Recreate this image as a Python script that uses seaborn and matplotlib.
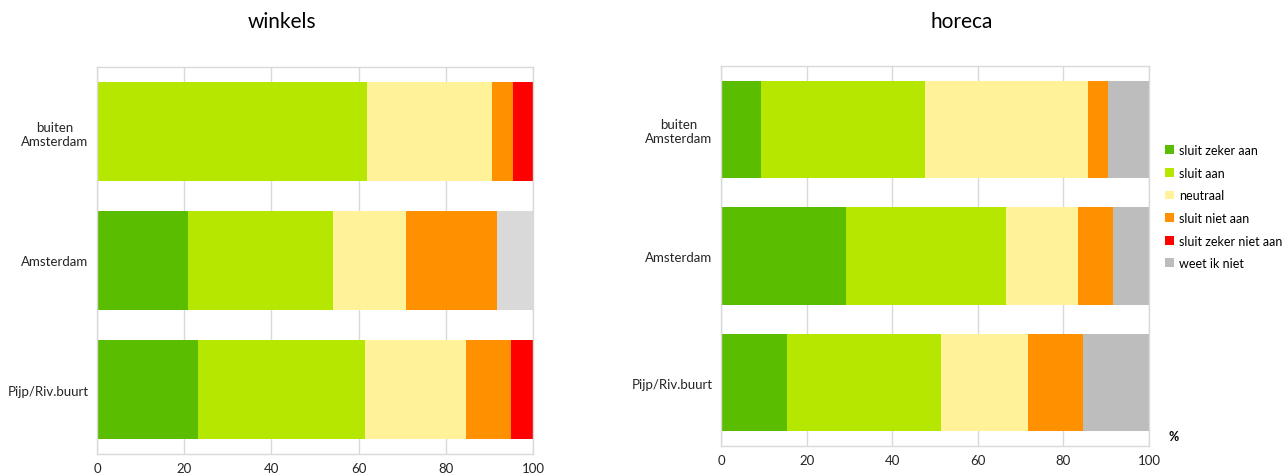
import matplotlib
matplotlib.use("Agg")
import matplotlib.pyplot as plt
import seaborn as sns
import pandas as pd
import numpy as np
from matplotlib.patches import Patch

sns.set_theme(style="white")
plt.rcParams["font.family"] = ["Lato", "DejaVu Sans"]

# areas (top to bottom)
areas = ["buiten\nAmsterdam", "Amsterdam", "Pijp/Riv.buurt"]
answers = ["sluit zeker aan", "sluit aan", "neutraal", "sluit niet aan",
           "sluit zeker niet aan", "weet ik niet"]

# shares in % per answer, per area
winkels_zeker_aan = [0.0, 20.9, 23.2]
winkels_aan = [61.9, 33.3, 38.3]
winkels_neutraal = [28.7, 16.7, 23.2]
winkels_niet_aan = [4.7, 20.8, 10.3]
winkels_zeker_niet = [4.8, 0.0, 5.0]
winkels_weet_niet = [0.0, 8.3, 0.0]

horeca_zeker_aan = [9.3, 29.1, 15.4]
horeca_aan = [38.3, 37.5, 35.9]
horeca_neutraal = [38.2, 16.8, 20.5]
horeca_niet_aan = [4.7, 8.3, 12.8]
horeca_zeker_niet = [0.0, 0.0, 0.0]
horeca_weet_niet = [9.5, 8.3, 15.4]

ticks = [0, 20, 40, 60, 80, 100]

colors = ["#5BBD00", "#B6E700", "#FFF299", "#FF9100", "#FF0000", "#BDBDBD"]
colors_winkels = colors[:5] + ["#D9D9D9"]

winkels = [winkels_zeker_aan, winkels_aan, winkels_neutraal, winkels_niet_aan,
           winkels_zeker_niet, winkels_weet_niet]
horeca = [horeca_zeker_aan, horeca_aan, horeca_neutraal, horeca_niet_aan,
          horeca_zeker_niet, horeca_weet_niet]

grid_col = "#D9D9D9"
text_col = "#262626"

fig = plt.figure(figsize=(12.82, 4.77), dpi=100)
ax_w = fig.add_axes([97 / 1282, 1 - 455 / 477, 436 / 1282, 387 / 477])
ax_h = fig.add_axes([721 / 1282, 1 - 447 / 477, 428 / 1282, 380 / 477])


def stacked(ax, series, cols):
    cum = np.cumsum(np.array(series), axis=0)
    # draw from the outermost cumulative total inward so each segment shows
    for i in range(len(series) - 1, -1, -1):
        df = pd.DataFrame({"area": areas, "value": cum[i]})
        sns.barplot(data=df, x="value", y="area", order=areas, color=cols[i],
                    width=0.77, saturation=1, ax=ax, linewidth=0, zorder=2)
    ax.set_xlim(0, 100)
    ax.set_ylim(2.5, -0.5)
    ax.set_xticks(ticks)
    ax.set_xticklabels([str(t) for t in ticks])
    ax.set_xlabel("")
    ax.set_ylabel("")
    ax.grid(axis="x", color=grid_col, linewidth=1, zorder=0)
    ax.set_axisbelow(True)
    for s in ax.spines.values():
        s.set_color(grid_col)
        s.set_linewidth(1)
    ax.tick_params(axis="both", length=0, labelsize=9.5, colors=text_col, pad=6)
    for lab in ax.get_yticklabels():
        lab.set_multialignment("center")


stacked(ax_w, winkels, colors_winkels)
stacked(ax_h, horeca, colors)

fig.text(282 / 1282, 1 - 22 / 477, "winkels", ha="center", va="center",
         fontsize=15, color="#000000")
fig.text(962 / 1282, 1 - 22 / 477, "horeca", ha="center", va="center",
         fontsize=15, color="#000000")

handles = [Patch(facecolor=c, edgecolor="none") for c in colors]
fig.legend(handles, answers, loc="upper left",
           bbox_to_anchor=(1160 / 1282, 1 - 140 / 477), frameon=False,
           fontsize=9, handlelength=0.7, handleheight=0.7, handletextpad=0.4,
           labelspacing=0.85, labelcolor="#000000", borderaxespad=0)

fig.text(1174 / 1282, 1 - 437 / 477, "%", ha="center", va="center",
         fontsize=9, fontweight="bold", color="#000000")

fig.savefig("out.png", dpi=100)
